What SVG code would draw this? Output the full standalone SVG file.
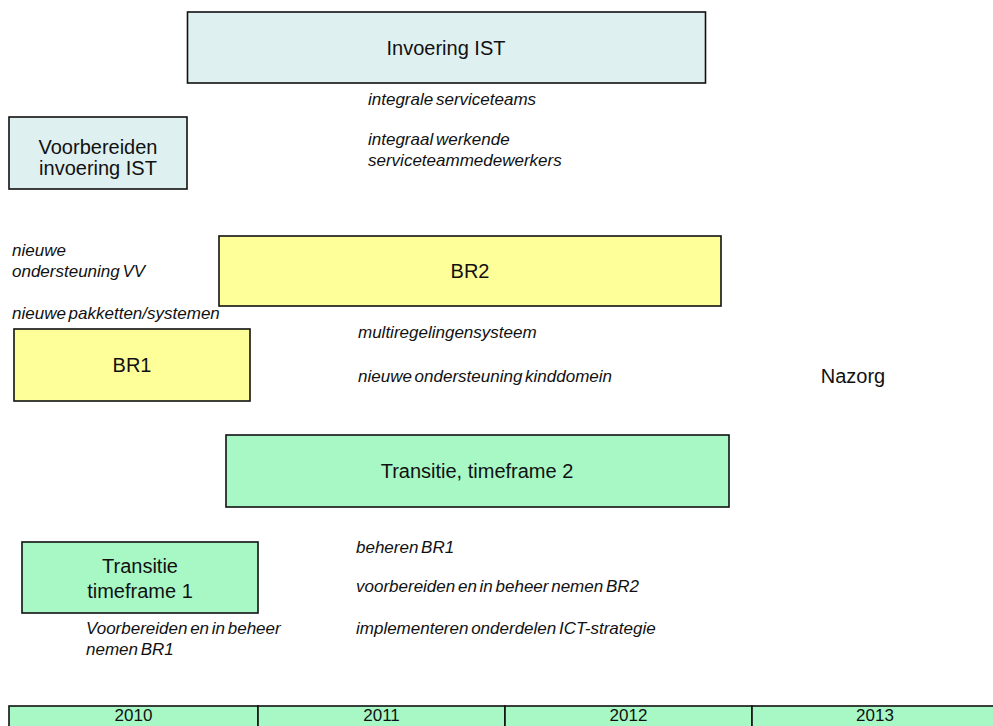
<svg xmlns="http://www.w3.org/2000/svg" width="993" height="726" viewBox="0 0 993 726">
<style>
.box{stroke:#111;stroke-width:1.6}
.ist{fill:#DFF0F0}
.br{fill:#FFFF99}
.tr{fill:#A8F8C6}
.lbl{font-family:"Liberation Sans",Arial,sans-serif;font-size:20px;fill:#111;text-anchor:middle}
.it{font-family:"Liberation Sans",Arial,sans-serif;font-size:17px;font-style:italic;fill:#111;word-spacing:-2px}
.yr{font-family:"Liberation Sans",Arial,sans-serif;font-size:17px;fill:#111;text-anchor:middle}
</style>
<rect width="993" height="726" fill="#fff"/>
<g id="invoering-ist">
<rect class="box ist" x="187.5" y="12" width="518" height="71"/>
<text class="lbl" x="446" y="55">Invoering IST</text>
</g>
<g id="invoering-notes">
<text class="it" x="368" y="105">integrale serviceteams</text>
<text class="it" x="368" y="145">integraal werkende</text>
<text class="it" x="368" y="166">serviceteammedewerkers</text>
</g>
<g id="voorbereiden-ist">
<rect class="box ist" x="9" y="117" width="178" height="72"/>
<text class="lbl" x="98" y="154">Voorbereiden</text>
<text class="lbl" x="98" y="175">invoering IST</text>
</g>
<g id="br-notes">
<text class="it" x="12" y="256">nieuwe</text>
<text class="it" x="12" y="277">ondersteuning VV</text>
<text class="it" x="12" y="319">nieuwe pakketten/systemen</text>
</g>
<g id="br2">
<rect class="box br" x="219" y="236" width="502" height="70"/>
<text class="lbl" x="470" y="278">BR2</text>
</g>
<g id="br2-notes">
<text class="it" x="358" y="338">multiregelingensysteem</text>
<text class="it" x="358" y="382">nieuwe ondersteuning kinddomein</text>
</g>
<g id="br1">
<rect class="box br" x="14" y="329" width="236" height="72"/>
<text class="lbl" x="132" y="372">BR1</text>
</g>
<g id="nazorg">
<text class="lbl" x="853" y="383">Nazorg</text>
</g>
<g id="transitie-tf2">
<rect class="box tr" x="226" y="435" width="503" height="72"/>
<text class="lbl" x="477" y="478">Transitie, timeframe 2</text>
</g>
<g id="tf2-notes">
<text class="it" x="356" y="553">beheren BR1</text>
<text class="it" x="356" y="592">voorbereiden en in beheer nemen BR2</text>
<text class="it" x="356" y="634">implementeren onderdelen ICT-strategie</text>
</g>
<g id="transitie-tf1">
<rect class="box tr" x="22" y="542" width="236" height="71"/>
<text class="lbl" x="140" y="573">Transitie</text>
<text class="lbl" x="140" y="598">timeframe 1</text>
</g>
<g id="tf1-notes">
<text class="it" x="86" y="634">Voorbereiden en in  beheer</text>
<text class="it" x="86" y="655">nemen BR1</text>
</g>
<g id="timeline">
<rect class="box tr" x="9" y="706" width="249" height="30"/>
<rect class="box tr" x="258" y="706" width="247" height="30"/>
<rect class="box tr" x="505" y="706" width="247" height="30"/>
<rect class="box tr" x="752" y="706" width="250" height="30"/>
<text class="yr" x="133.5" y="721">2010</text>
<text class="yr" x="381.5" y="721">2011</text>
<text class="yr" x="628.5" y="721">2012</text>
<text class="yr" x="875" y="721">2013</text>
</g>
</svg>
